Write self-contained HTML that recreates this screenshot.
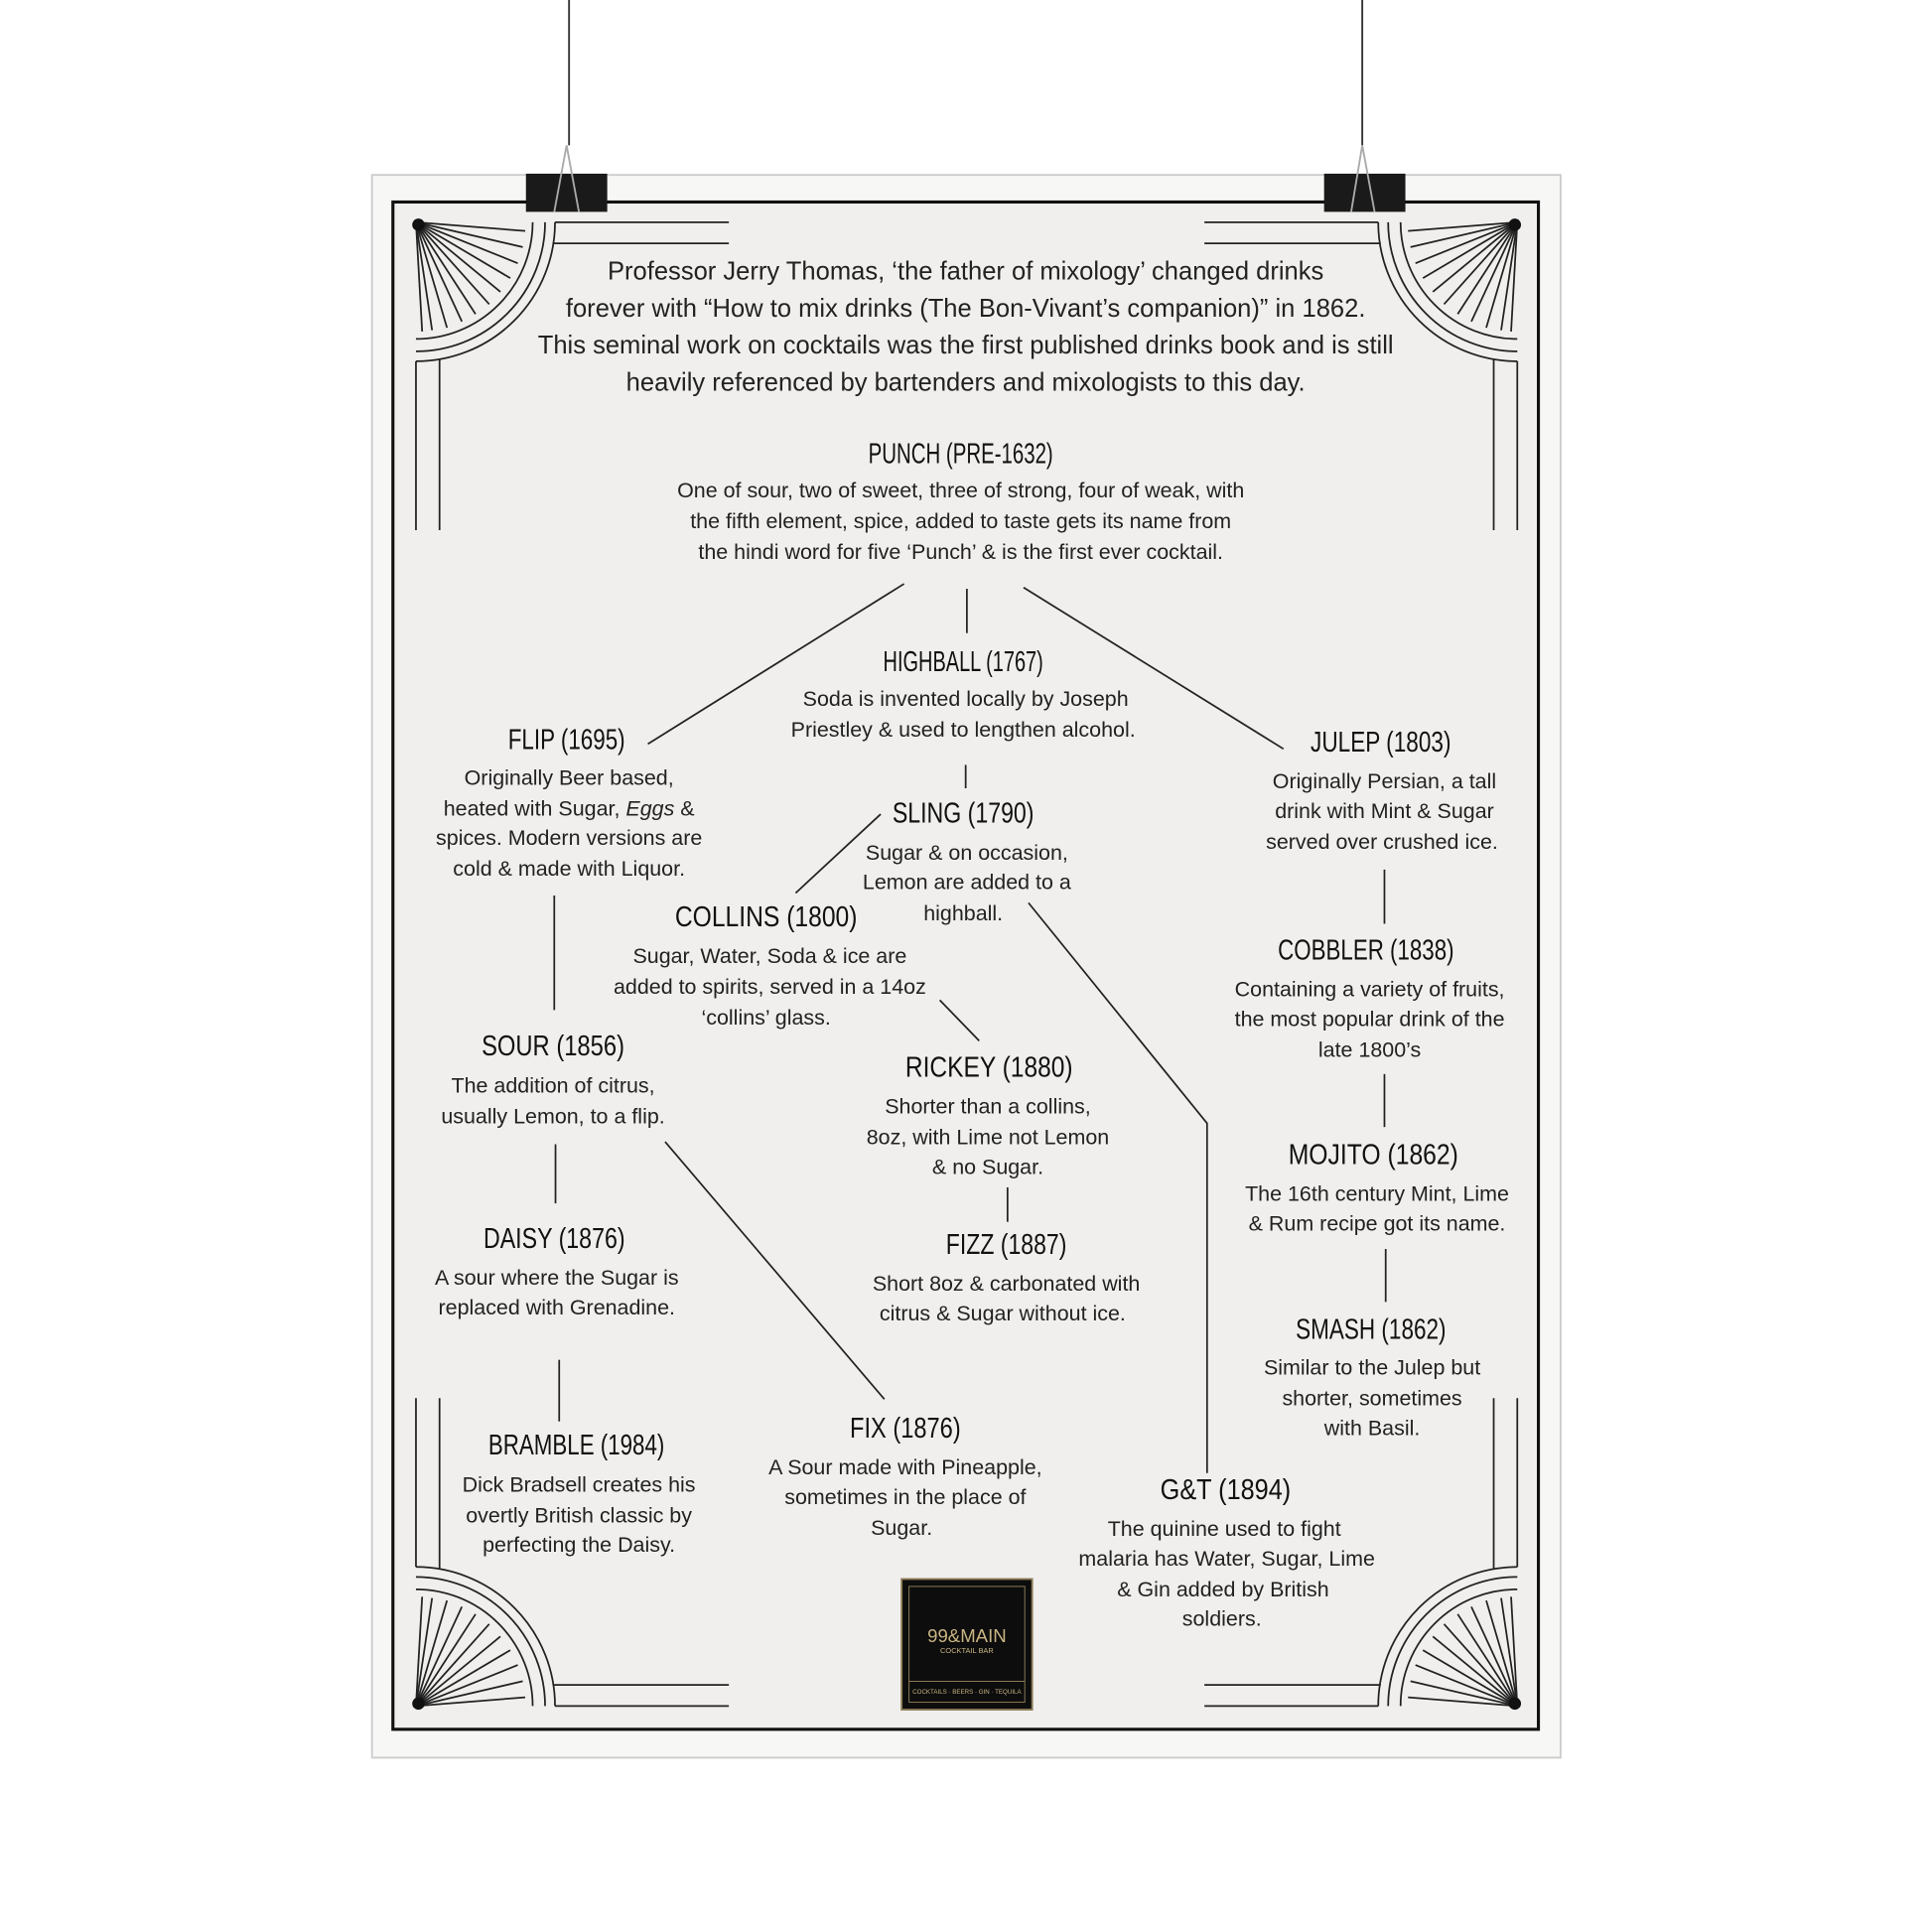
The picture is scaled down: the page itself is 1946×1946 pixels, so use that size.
<!DOCTYPE html>
<html><head><meta charset="utf-8"><style>
html,body{margin:0;padding:0;background:#fff;}
svg{display:block;}
.b{font-family:"Liberation Sans",sans-serif;font-size:17.3px;fill:#222;text-anchor:middle;}
.i{font-family:"Liberation Sans",sans-serif;font-size:20.6px;fill:#222;text-anchor:middle;}
.t{font-family:"Liberation Sans Narrow","Liberation Sans",sans-serif;font-size:23px;fill:#111;text-anchor:middle;}
.l{stroke:#222;stroke-width:1.4;fill:none;}
</style></head><body>
<svg width="1946" height="1946" viewBox="0 0 1556 1556" xmlns="http://www.w3.org/2000/svg">
<defs>
<g id="corner">
  <path class="l" d="M0 112 A112 112 0 0 0 112 0 M0 104 A104 104 0 0 0 104 0 M0 94 A94 94 0 0 0 94 0"/>
  <line class="l" x1="0" y1="112" x2="0" y2="248"/>
  <line class="l" x1="19" y1="110" x2="19" y2="248"/>
  <line class="l" x1="112" y1="0" x2="252" y2="0"/>
  <line class="l" x1="110" y1="17" x2="252" y2="17"/>
  <g stroke="#222" stroke-width="1.4">
    <line x1="0" y1="0" x2="88" y2="7"/><line x1="0" y1="0" x2="86" y2="20"/><line x1="0" y1="0" x2="82" y2="33"/>
    <line x1="0" y1="0" x2="76" y2="45"/><line x1="0" y1="0" x2="68" y2="56"/><line x1="0" y1="0" x2="59" y2="66"/>
    <line x1="0" y1="0" x2="48" y2="74"/><line x1="0" y1="0" x2="37" y2="80"/><line x1="0" y1="0" x2="25" y2="85"/>
    <line x1="0" y1="0" x2="13" y2="87"/><line x1="0" y1="0" x2="5" y2="88"/>
  </g>
  <circle cx="2" cy="2" r="5" fill="#111"/>
</g>
</defs>
<rect width="1556" height="1556" fill="#fff"/>
<g transform="scale(0.992)">
<line x1="462" y1="0" x2="462" y2="118" stroke="#333" stroke-width="1.5"/>
<line x1="1106" y1="0" x2="1106" y2="118" stroke="#333" stroke-width="1.5"/>
<rect x="302" y="142" width="965" height="1285" fill="#f7f7f6" stroke="#ccc" stroke-width="1.5"/>
<rect x="319" y="164" width="930" height="1240" fill="#f0efed" stroke="#111" stroke-width="2.5"/>
<g fill="#1a1a1a">
<rect x="427" y="141" width="66" height="31"/>
<rect x="1075" y="141" width="66" height="31"/>
</g>
<path d="M450 172 L460 118 L470 172" stroke="#aaa" stroke-width="1.5" fill="none"/>
<path d="M1097 172 L1106 118 L1116 172" stroke="#aaa" stroke-width="1.5" fill="none"/>
</g>
<use href="#corner" transform="translate(335,179)"/>
<use href="#corner" transform="translate(1222,179) scale(-1,1)"/>
<use href="#corner" transform="translate(335,1374) scale(1,-1)"/>
<use href="#corner" transform="translate(1222,1374) scale(-1,-1)"/>
<g transform="scale(0.992)">
<text class="i" x="784" y="227">Professor Jerry Thomas, ‘the father of mixology’ changed drinks</text>
<text class="i" x="784" y="257">forever with “How to mix drinks (The Bon-Vivant’s companion)” in 1862.</text>
<text class="i" x="784" y="287">This seminal work on cocktails was the first published drinks book and is still</text>
<text class="i" x="784" y="317">heavily referenced by bartenders and mixologists to this day.</text>
<g class="l">
<line x1="734" y1="474" x2="526" y2="604"/>
<line x1="785" y1="478" x2="785" y2="514"/>
<line x1="831" y1="477" x2="1042" y2="608"/>
<line x1="784" y1="621" x2="784" y2="640"/>
<line x1="715" y1="661" x2="646" y2="725"/>
<line x1="450" y1="727" x2="450" y2="820"/>
<line x1="1124" y1="706" x2="1124" y2="750"/>
<polyline points="835,733 980,912 980,1196"/>
<line x1="763" y1="812" x2="795" y2="845"/>
<line x1="1124" y1="872" x2="1124" y2="915"/>
<line x1="451" y1="929" x2="451" y2="977"/>
<line x1="540" y1="927" x2="718" y2="1136"/>
<line x1="818" y1="964" x2="818" y2="992"/>
<line x1="1125" y1="1014" x2="1125" y2="1057"/>
<line x1="454" y1="1104" x2="454" y2="1154"/>
</g>
<text class="t" x="780" y="376" textLength="150" lengthAdjust="spacingAndGlyphs">PUNCH (PRE-1632)</text>
<text class="b" x="780" y="404">One of sour, two of sweet, three of strong, four of weak, with</text>
<text class="b" x="780" y="429">the fifth element, spice, added to taste gets its name from</text>
<text class="b" x="780" y="454">the hindi word for five ‘Punch’ &amp; is the first ever cocktail.</text>

<text class="t" x="782" y="545" textLength="130" lengthAdjust="spacingAndGlyphs">HIGHBALL (1767)</text>
<text class="b" x="784" y="573">Soda is invented locally by Joseph</text>
<text class="b" x="782" y="598">Priestley &amp; used to lengthen alcohol.</text>

<text class="t" x="460" y="608" textLength="95" lengthAdjust="spacingAndGlyphs">FLIP (1695)</text>
<text class="b" x="462" y="637">Originally Beer based,</text>
<text class="b" x="462" y="662">heated with Sugar, <tspan font-style="italic">Eggs</tspan> &amp;</text>
<text class="b" x="462" y="686">spices. Modern versions are</text>
<text class="b" x="462" y="711">cold &amp; made with Liquor.</text>

<text class="t" x="1121" y="610" textLength="114" lengthAdjust="spacingAndGlyphs">JULEP (1803)</text>
<text class="b" x="1124" y="640">Originally Persian, a tall</text>
<text class="b" x="1124" y="664">drink with Mint &amp; Sugar</text>
<text class="b" x="1122" y="689">served over crushed ice.</text>

<text class="t" x="782" y="668" textLength="115" lengthAdjust="spacingAndGlyphs">SLING (1790)</text>
<text class="b" x="785" y="698">Sugar &amp; on occasion,</text>
<text class="b" x="785" y="722">Lemon are added to a</text>
<text class="b" x="782" y="747">highball.</text>

<text class="t" x="622" y="752" textLength="148" lengthAdjust="spacingAndGlyphs">COLLINS (1800)</text>
<text class="b" x="625" y="782">Sugar, Water, Soda &amp; ice are</text>
<text class="b" x="625" y="807">added to spirits, served in a 14oz</text>
<text class="b" x="622" y="832">‘collins’ glass.</text>

<text class="t" x="1109" y="779" textLength="143" lengthAdjust="spacingAndGlyphs">COBBLER (1838)</text>
<text class="b" x="1112" y="809">Containing a variety of fruits,</text>
<text class="b" x="1112" y="833">the most popular drink of the</text>
<text class="b" x="1112" y="858">late 1800’s</text>

<text class="t" x="449" y="857" textLength="116" lengthAdjust="spacingAndGlyphs">SOUR (1856)</text>
<text class="b" x="449" y="887">The addition of citrus,</text>
<text class="b" x="449" y="912">usually Lemon, to a flip.</text>

<text class="t" x="803" y="874" textLength="136" lengthAdjust="spacingAndGlyphs">RICKEY (1880)</text>
<text class="b" x="802" y="904">Shorter than a collins,</text>
<text class="b" x="802" y="929">8oz, with Lime not Lemon</text>
<text class="b" x="802" y="953">&amp; no Sugar.</text>

<text class="t" x="1115" y="945" textLength="138" lengthAdjust="spacingAndGlyphs">MOJITO (1862)</text>
<text class="b" x="1118" y="975">The 16th century Mint, Lime</text>
<text class="b" x="1118" y="999">&amp; Rum recipe got its name.</text>

<text class="t" x="450" y="1013" textLength="115" lengthAdjust="spacingAndGlyphs">DAISY (1876)</text>
<text class="b" x="452" y="1043">A sour where the Sugar is</text>
<text class="b" x="452" y="1067">replaced with Grenadine.</text>

<text class="t" x="817" y="1018" textLength="98" lengthAdjust="spacingAndGlyphs">FIZZ (1887)</text>
<text class="b" x="817" y="1048">Short 8oz &amp; carbonated with</text>
<text class="b" x="814" y="1072">citrus &amp; Sugar without ice.</text>

<text class="t" x="1113" y="1087" textLength="122" lengthAdjust="spacingAndGlyphs">SMASH (1862)</text>
<text class="b" x="1114" y="1116">Similar to the Julep but</text>
<text class="b" x="1114" y="1141">shorter, sometimes</text>
<text class="b" x="1114" y="1165">with Basil.</text>

<text class="t" x="735" y="1167" textLength="90" lengthAdjust="spacingAndGlyphs">FIX (1876)</text>
<text class="b" x="735" y="1197">A Sour made with Pineapple,</text>
<text class="b" x="735" y="1221">sometimes in the place of</text>
<text class="b" x="732" y="1246">Sugar.</text>

<text class="t" x="468" y="1181" textLength="143" lengthAdjust="spacingAndGlyphs">BRAMBLE (1984)</text>
<text class="b" x="470" y="1211">Dick Bradsell creates his</text>
<text class="b" x="470" y="1236">overtly British classic by</text>
<text class="b" x="470" y="1260">perfecting the Daisy.</text>

<text class="t" x="995" y="1217" textLength="106" lengthAdjust="spacingAndGlyphs">G&amp;T (1894)</text>
<text class="b" x="994" y="1247">The quinine used to fight</text>
<text class="b" x="996" y="1271">malaria has Water, Sugar, Lime</text>
<text class="b" x="993" y="1296">&amp; Gin added by British</text>
<text class="b" x="992" y="1320">soldiers.</text>

<rect x="732" y="1282" width="106" height="106" fill="#0d0d0d" stroke="#8a7a55" stroke-width="1.5"/>
<rect x="738" y="1288" width="94" height="94" fill="none" stroke="#8a7a55" stroke-width="0.8"/>
<line x1="738" y1="1365" x2="832" y2="1365" stroke="#8a7a55" stroke-width="0.8"/>
<text x="785" y="1333" font-family="Liberation Sans Narrow,sans-serif" font-size="15" fill="#c8b483" text-anchor="middle">99&amp;MAIN</text>
<text x="785" y="1342" font-family="Liberation Sans Narrow,sans-serif" font-size="6" fill="#c8b483" text-anchor="middle">COCKTAIL BAR</text>
<text x="785" y="1375" font-family="Liberation Sans Narrow,sans-serif" font-size="5" fill="#c8b483" text-anchor="middle">COCKTAILS · BEERS · GIN · TEQUILA</text>
</g>
</svg>
</body></html>
